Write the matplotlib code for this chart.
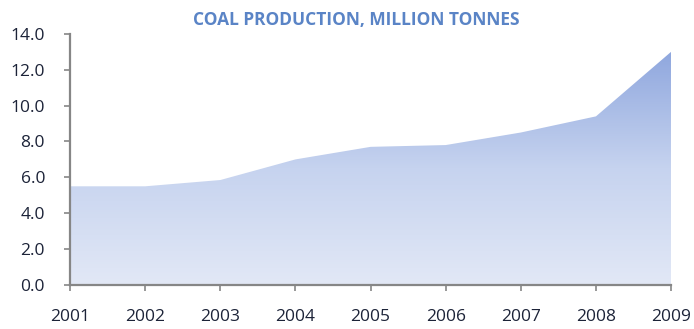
import numpy as np
import matplotlib.pyplot as plt
from matplotlib.colors import LinearSegmentedColormap
from matplotlib.patches import Polygon

years = [2001, 2002, 2003, 2004, 2005, 2006, 2007, 2008, 2009]
production = [5.5, 5.5, 5.85, 7.0, 7.7, 7.8, 8.5, 9.4, 13.0]
y_ticks = [0.0, 2.0, 4.0, 6.0, 8.0, 10.0, 12.0, 14.0]

plt.rcParams["font.family"] = ["Open Sans", "DejaVu Sans"]

fig = plt.figure(figsize=(6.94, 3.29), dpi=100)
ax = fig.add_axes([0.101, 0.134, 0.866, 0.763])

x = np.arange(len(years))
ymax = 14.0

# area with a vertical gradient, light at the base and deeper blue at the top
cmap = LinearSegmentedColormap.from_list("coal", ["#e2e8f6", "#c6d3ef", "#8fa7de"])
grad = np.linspace(0, 1, 256).reshape(-1, 1)
img = ax.imshow(grad, cmap=cmap, origin="lower", aspect="auto",
                extent=[x[0], x[-1], 0, max(production)], zorder=1)
verts = [(x[0], 0)] + list(zip(x, production)) + [(x[-1], 0)]
clip = Polygon(verts, closed=True, facecolor="none", edgecolor="none")
ax.add_patch(clip)
img.set_clip_path(clip)

ax.set_xlim(x[0], x[-1])
ax.set_ylim(0, ymax)
ax.set_xticks(x)
ax.set_xticklabels([str(y) for y in years])
ax.set_yticks(y_ticks)
ax.set_yticklabels([f"{v:.1f}" for v in y_ticks])

for side in ("top", "right"):
    ax.spines[side].set_visible(False)
for side in ("left", "bottom"):
    ax.spines[side].set_color("#868686")
    ax.spines[side].set_linewidth(1.6)
ax.tick_params(axis="both", colors="#868686", length=4, width=1.2,
               labelcolor="#1c2338", labelsize=12.5)
ax.tick_params(axis="x", pad=13)
ax.tick_params(axis="y", pad=14)

fig.text(0.513, 0.938, "COAL PRODUCTION, MILLION TONNES", ha="center", va="center",
         fontsize=12.5, fontweight="bold", color="#5a84c6")

fig.savefig("out.png", dpi=100)
